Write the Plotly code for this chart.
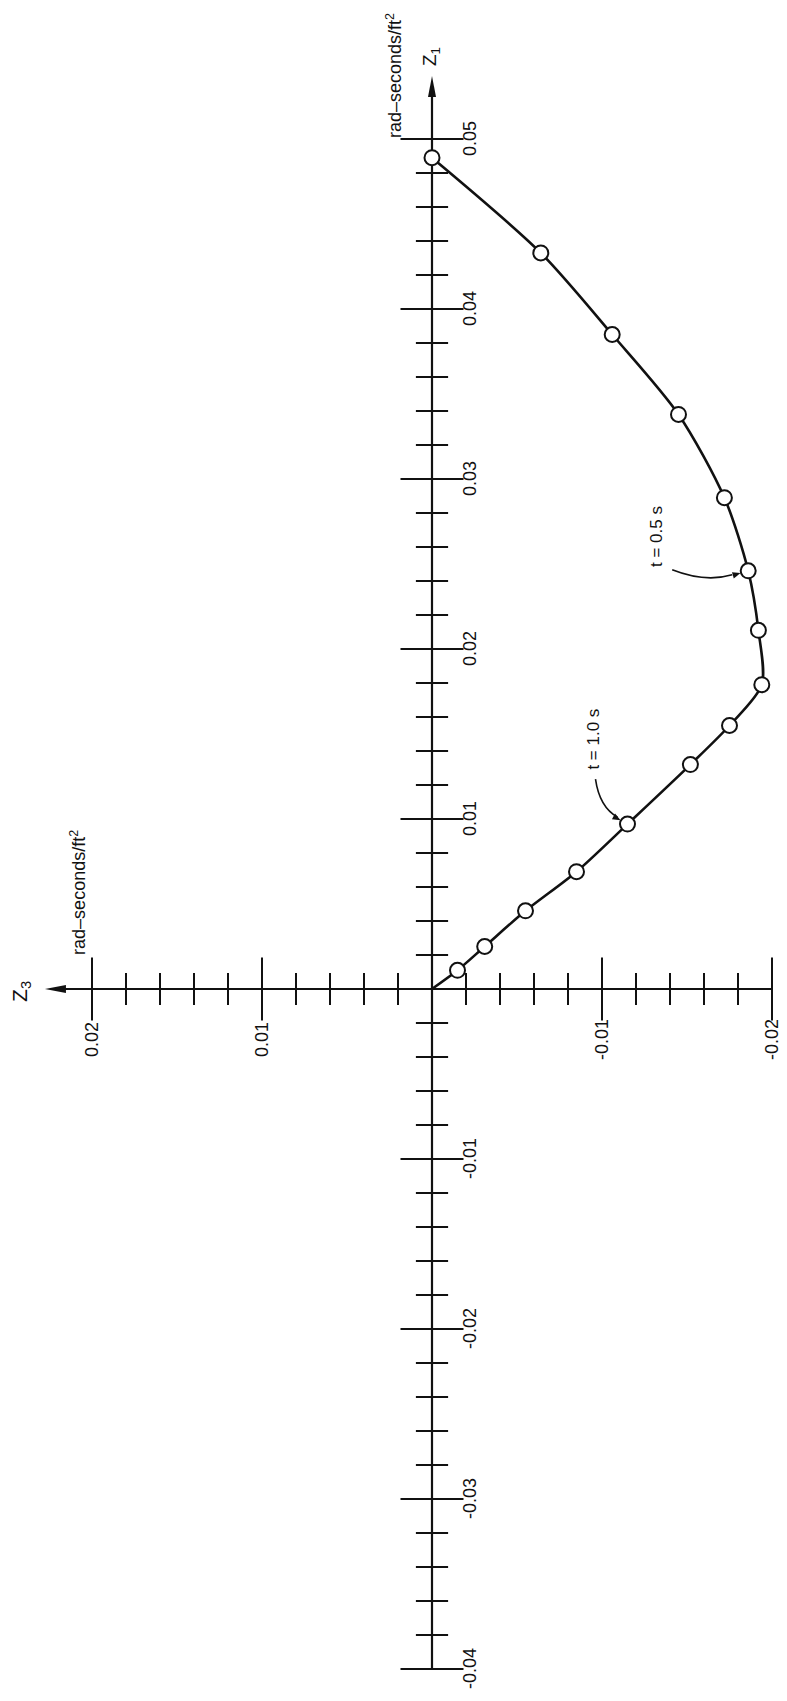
import numpy as np
import plotly.graph_objects as go

# Trajectory in the (Z3, Z1) plane, one sample every 0.1 s (t = 0 at top, t = 1.5 s at origin)
t_s = [0.0, 0.1, 0.2, 0.3, 0.4, 0.5, 0.6, 0.7, 0.8, 0.9, 1.0, 1.1, 1.2, 1.3, 1.4, 1.5]
z1 = [0.0489, 0.0433, 0.0385, 0.0338, 0.0289, 0.0246, 0.0211, 0.0179,
      0.0155, 0.0132, 0.0097, 0.0069, 0.0046, 0.0025, 0.0011, 0.0]
z3 = [0.0000, -0.0064, -0.0106, -0.0145, -0.0172, -0.0186, -0.0192, -0.0194,
      -0.0175, -0.0152, -0.0115, -0.0085, -0.0055, -0.0031, -0.0015, 0.0]

# Axis graduations
z1_major = [-0.04, -0.03, -0.02, -0.01, 0.01, 0.02, 0.03, 0.04, 0.05]
z1_major_text = ["-0.04", "-0.03", "-0.02", "-0.01", "0.01", "0.02", "0.03", "0.04", "0.05"]
z3_major = [-0.02, -0.01, 0.01, 0.02]
z3_major_text = ["-0.02", "-0.01", "0.01", "0.02"]
minor_step = 0.002

# Time callouts on the trajectory
callouts = [(0.5, "t = 0.5 s"), (1.0, "t = 1.0 s")]

UNITS = "rad\u2013seconds/ft<sup>2</sup>"
FONT = "Liberation Sans, Arial, Helvetica, sans-serif"
INK = "#111111"

W, H = 787, 1701
PX = 17000.0                 # pixels per unit on both axes
ORIGIN_X, ORIGIN_Y = 432, 989
x_range = [ORIGIN_X / PX, -(W - ORIGIN_X) / PX]      # Z3 grows to the left
y_range = [-(H - ORIGIN_Y) / PX, ORIGIN_Y / PX]
z1_tip = 0.0537
z3_tip = 0.02277


def minor_ticks(lo, hi):
    vals = np.round(np.arange(lo, hi + minor_step / 2, minor_step), 4)
    return [v for v in vals if abs(v) > 1e-9 and abs(round(v * 100) - v * 100) > 1e-6]


def arrowhead_path(direction, standoff=8.0, length=8.0, half_width=3.2):
    """Small filled triangle (pixel offsets, y up) pointing along a screen-space direction."""
    dx, dy = direction
    n = (dx * dx + dy * dy) ** 0.5
    dx, dy = dx / n, dy / n
    tip = (-standoff * dx, -standoff * dy)
    base = (tip[0] - length * dx, tip[1] - length * dy)
    px_, py_ = -dy, dx
    c1 = (base[0] + half_width * px_, base[1] + half_width * py_)
    c2 = (base[0] - half_width * px_, base[1] - half_width * py_)
    pts = [tip, c1, c2]
    # screen y is downwards, shape pixel y is upwards
    return "M" + " L".join(f"{x:.2f},{-y:.2f}" for x, y in pts) + " Z"


z1_minor = minor_ticks(min(z1_major), max(z1_major))
z3_minor = minor_ticks(min(z3_major), max(z3_major))

fig = go.Figure()

# axis lines
fig.add_trace(go.Scatter(x=[0, 0], y=[min(z1_major), z1_tip - 10 / PX], mode="lines",
                         line=dict(color=INK, width=2.2), hoverinfo="skip"))
fig.add_trace(go.Scatter(x=[min(z3_major), z3_tip - 10 / PX], y=[0, 0], mode="lines",
                         line=dict(color=INK, width=2.2), hoverinfo="skip"))

# tick marks crossing the axes
tick_line = dict(color=INK, width=2)
fig.add_trace(go.Scatter(x=[0] * len(z1_minor), y=z1_minor, mode="markers",
                         marker=dict(symbol="line-ew", size=23, line=tick_line), hoverinfo="skip"))
fig.add_trace(go.Scatter(x=[0] * len(z1_major), y=z1_major, mode="markers",
                         marker=dict(symbol="line-ew", size=45, line=tick_line), hoverinfo="skip"))
fig.add_trace(go.Scatter(x=z3_minor, y=[0] * len(z3_minor), mode="markers",
                         marker=dict(symbol="line-ns", size=23, line=tick_line), hoverinfo="skip"))
fig.add_trace(go.Scatter(x=z3_major, y=[0] * len(z3_major), mode="markers",
                         marker=dict(symbol="line-ns", size=45, line=tick_line), hoverinfo="skip"))

# trajectory and sample points
fig.add_trace(go.Scatter(x=z3, y=z1, mode="lines",
                         line=dict(color=INK, width=2.6, shape="spline", smoothing=0.8),
                         hoverinfo="skip"))
fig.add_trace(go.Scatter(x=z3[:-1], y=z1[:-1], mode="markers",
                         marker=dict(symbol="circle", size=15, color="white",
                                     line=dict(color=INK, width=2)),
                         hoverinfo="skip"))

shapes = []
# arrowheads at the axis ends
shapes.append(dict(type="path", xref="x", yref="y", xsizemode="pixel", ysizemode="pixel",
                   xanchor=0, yanchor=z1_tip, path="M0,0 L-4,-21 L4,-21 Z",
                   fillcolor=INK, line=dict(width=0)))
shapes.append(dict(type="path", xref="x", yref="y", xsizemode="pixel", ysizemode="pixel",
                   xanchor=z3_tip, yanchor=0, path="M0,0 L21,4 L21,-4 Z",
                   fillcolor=INK, line=dict(width=0)))

annotations = []
lab = dict(font=dict(family=FONT, size=18, color=INK), showarrow=False, textangle=-90)

for v, s in zip(z1_major, z1_major_text):
    annotations.append(dict(x=0, y=v, text=s, xshift=38, **lab))
for v, s in zip(z3_major, z3_major_text):
    annotations.append(dict(x=v, y=0, text=s, yshift=-51, **lab))

# axis names and units
annotations.append(dict(x=0, y=z1_tip, text="Z<sub>1</sub>", xshift=-1, yshift=19,
                        **{**lab, "font": dict(family=FONT, size=19, color=INK)}))
annotations.append(dict(x=0, y=z1_tip, text=UNITS, xshift=-38, yshift=0, **lab))
annotations.append(dict(x=z3_tip, y=0, text="Z<sub>3</sub>", xshift=-24, yshift=-2,
                        **{**lab, "font": dict(family=FONT, size=21, color=INK)}))
annotations.append(dict(x=z3_tip, y=0, text=UNITS, xshift=33, yshift=97, **lab))

# time callouts: curved leader ending in a small arrowhead at the sample marker
leader = {
    0.5: dict(text_shift=(-91, 34), path="M-76,1 Q-43,-12 -16,-4", head_dir=(20, -6)),
    1.0: dict(text_shift=(-34, 85), path="M-32,45 Q-28,17 -10,7", head_dir=(20, 11)),
}
for tv, txt in callouts:
    i = int(np.argmin([abs(t - tv) for t in t_s]))
    px, py = z3[i], z1[i]
    spec = leader[tv]
    annotations.append(dict(x=px, y=py, text=txt, xshift=spec["text_shift"][0],
                            yshift=spec["text_shift"][1],
                            **{**lab, "font": dict(family=FONT, size=17, color=INK)}))
    shapes.append(dict(type="path", xref="x", yref="y", xsizemode="pixel", ysizemode="pixel",
                       xanchor=px, yanchor=py, path=spec["path"],
                       fillcolor="rgba(0,0,0,0)", line=dict(color=INK, width=1.6)))
    shapes.append(dict(type="path", xref="x", yref="y", xsizemode="pixel", ysizemode="pixel",
                       xanchor=px, yanchor=py, path=arrowhead_path(spec["head_dir"]),
                       fillcolor=INK, line=dict(width=0)))

fig.update_layout(
    width=W, height=H,
    margin=dict(l=0, r=0, t=0, b=0),
    paper_bgcolor="white", plot_bgcolor="white",
    showlegend=False, hovermode=False,
    xaxis=dict(range=x_range, visible=False, fixedrange=True),
    yaxis=dict(range=y_range, visible=False, fixedrange=True),
    shapes=shapes, annotations=annotations,
)

fig.write_html("out.html")
